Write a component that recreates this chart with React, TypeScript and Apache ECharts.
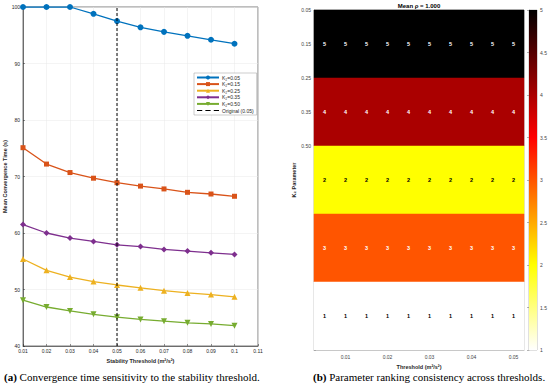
import React, { useEffect, useRef } from 'react';
import * as echarts from 'echarts';

// ---------- Panel (a) data ----------
const THRESHOLDS_A = [0.01, 0.02, 0.03, 0.04, 0.05, 0.06, 0.07, 0.08, 0.09, 0.1];
const SERIES_NAMES = ['K\u2082=0.05', 'K\u2082=0.15', 'K\u2082=0.25', 'K\u2082=0.35', 'K\u2082=0.50'];
const K2_005 = [100, 100, 100, 98.8, 97.5, 96.4, 95.6, 94.9, 94.2, 93.5];
const K2_015 = [75.1, 72.2, 70.7, 69.7, 68.9, 68.3, 67.8, 67.2, 66.9, 66.5];
const K2_025 = [55.4, 53.4, 52.2, 51.4, 50.8, 50.3, 49.8, 49.4, 49.1, 48.7];
const K2_035 = [61.5, 60.0, 59.1, 58.5, 57.9, 57.6, 57.1, 56.8, 56.5, 56.2];
const K2_050 = [48.1, 46.9, 46.2, 45.6, 45.1, 44.7, 44.4, 44.1, 43.9, 43.6];
const ORIGINAL_THRESHOLD = 0.05;
const ORIGINAL_NAME = 'Original (0.05)';
const Y_MIN_A = 40;
const Y_MAX_A = 100;

// ---------- Panel (b) data ----------
const THRESHOLDS_B = [0.005, 0.01, 0.015, 0.02, 0.025, 0.03, 0.035, 0.04, 0.045, 0.05];
const X_TICKS_B = [0.01, 0.02, 0.03, 0.04, 0.05];
const K2_TICK_LABELS = ['0.05', '0.15', '0.25', '0.35', '0.50'];
const RANK_ROWS = [
  [5, 5, 5, 5, 5, 5, 5, 5, 5, 5],
  [4, 4, 4, 4, 4, 4, 4, 4, 4, 4],
  [2, 2, 2, 2, 2, 2, 2, 2, 2, 2],
  [3, 3, 3, 3, 3, 3, 3, 3, 3, 3],
  [1, 1, 1, 1, 1, 1, 1, 1, 1, 1],
];
const MEAN_RHO = 1.0;
const CBAR_MIN = 1;
const CBAR_MAX = 5;

const COLORS = ['#0072BD', '#D95319', '#EDB120', '#7E2F8E', '#77AC30'];
const SYMBOLS = ['circle', 'rect', 'triangle', 'diamond', 'path://M0,0 L10,0 L5,9 Z'];
const SYMBOL_SIZES = [6, 5, 6, 6, 6];
const FONT = 'Liberation Sans, Arial, sans-serif';
const SERIF = 'Liberation Serif, serif';
const AX = '#262626';

// flipped "hot" colormap: p=0 -> black (max rank), p=1 -> white (min rank)
function hotColor(p: number): string {
  const c = (v: number) => Math.round(Math.max(0, Math.min(1, v)) * 255);
  const r = c(p / 0.375);
  const g = c((p - 0.375) / 0.375);
  const b = c((p - 0.75) / 0.25);
  return `rgb(${r},${g},${b})`;
}
function rankColor(v: number): string {
  return hotColor(1 - (v - CBAR_MIN) / (CBAR_MAX - CBAR_MIN));
}

export default function App() {
  const ref = useRef<HTMLDivElement>(null);
  useEffect(() => {
    if (!ref.current) return;
    const chart = echarts.init(ref.current, undefined, { renderer: 'svg' });
    const seriesA = [K2_005, K2_015, K2_025, K2_035, K2_050];
    const halfStep = (THRESHOLDS_B[1] - THRESHOLDS_B[0]) / 2;
    const heatData: number[][] = [];
    RANK_ROWS.forEach((row, ri) => {
      row.forEach((v, ci) => heatData.push([THRESHOLDS_B[ci], ri + 1, v]));
    });
    const labelStyle = { fontSize: 5, color: AX, fontFamily: FONT };
    const halfTicks: number[] = [];
    for (let v = 0.5; v <= 5.5; v += 0.5) halfTicks.push(v);

    const option: any = {
      animation: false,
      textStyle: { fontFamily: FONT },
      grid: [
        { left: 23, top: 7, width: 235, height: 339, show: true, borderColor: AX, borderWidth: 0.6, backgroundColor: 'transparent' },
        { left: 314, top: 10, width: 210, height: 340, show: true, borderColor: '#999', borderWidth: 0.6, backgroundColor: 'transparent' },
        { left: 529, top: 10, width: 12, height: 340, show: true, borderColor: '#999', borderWidth: 0.6, backgroundColor: 'transparent' },
      ],
      xAxis: [
        {
          gridIndex: 0, type: 'value', min: 0.01, max: 0.11, interval: 0.01,
          axisLine: { lineStyle: { color: AX, width: 0.6 } },
          axisTick: { inside: true, length: 2, lineStyle: { color: AX, width: 0.5 } },
          axisLabel: { ...labelStyle, margin: 2 },
          splitLine: { show: true, lineStyle: { color: '#e8e8e8', width: 0.5 } },
          name: 'Stability Threshold (m\u00b2/s\u00b2)', nameLocation: 'middle', nameGap: 9,
          nameTextStyle: { fontSize: 5.5, fontWeight: 'bold', color: AX, fontFamily: FONT },
        },
        {
          gridIndex: 1, type: 'value', min: THRESHOLDS_B[0] - halfStep, max: THRESHOLDS_B[THRESHOLDS_B.length - 1] + halfStep,
          axisLine: { lineStyle: { color: '#999', width: 0.6 } },
          axisTick: { inside: true, length: 2, customValues: X_TICKS_B, lineStyle: { color: '#666', width: 0.5 } },
          axisLabel: { ...labelStyle, color: '#444', margin: 4, customValues: X_TICKS_B, formatter: (v: number) => v.toFixed(2) },
          splitLine: { show: false },
          name: 'Threshold (m\u00b2/s\u00b2)', nameLocation: 'middle', nameGap: 12,
          nameTextStyle: { fontSize: 5.5, fontWeight: 'bold', color: AX, fontFamily: FONT },
        },
        { gridIndex: 2, type: 'value', min: 0, max: 1, show: false },
      ],
      yAxis: [
        {
          gridIndex: 0, type: 'value', min: Y_MIN_A, max: Y_MAX_A, interval: 10,
          axisLine: { show: true, lineStyle: { color: AX, width: 0.6 } },
          axisTick: { show: true, inside: true, length: 2, lineStyle: { color: AX, width: 0.5 } },
          axisLabel: { ...labelStyle, margin: 3 },
          splitLine: { show: true, lineStyle: { color: '#e8e8e8', width: 0.5 } },
          name: 'Mean Convergence Time (s)', nameLocation: 'middle', nameGap: 14,
          nameTextStyle: { fontSize: 5.5, fontWeight: 'bold', color: AX, fontFamily: FONT },
        },
        {
          gridIndex: 1, type: 'value', min: 0.5, max: 5.5, inverse: true,
          axisLine: { show: true, lineStyle: { color: '#999', width: 0.6 } },
          axisTick: { show: true, inside: true, length: 2, customValues: halfTicks, lineStyle: { color: '#666', width: 0.5 } },
          axisLabel: {
            ...labelStyle, color: '#444', margin: 3,
            customValues: [0.5, 1, 1.5, 2, 2.5],
            formatter: (v: number) => K2_TICK_LABELS[Math.round((v - 0.5) * 2)] ?? '',
          },
          splitLine: { show: false },
          name: 'K\u2082 Parameter', nameLocation: 'middle', nameGap: 15,
          nameTextStyle: { fontSize: 5.5, fontWeight: 'bold', color: AX, fontFamily: FONT },
        },
        {
          gridIndex: 2, type: 'value', min: CBAR_MIN, max: CBAR_MAX, interval: 0.5, position: 'right',
          axisLine: { show: true, lineStyle: { color: '#999', width: 0.6 } },
          axisTick: { show: true, inside: true, length: 2, lineStyle: { color: '#666', width: 0.5 } },
          axisLabel: { ...labelStyle, color: '#444', margin: 3 },
          splitLine: { show: false },
        },
      ],
      legend: {
        orient: 'vertical', left: 194, top: 73,
        itemWidth: 22, itemHeight: 5, itemGap: 1.6,
        padding: [2, 3, 2, 2],
        borderColor: '#999', borderWidth: 0.5, backgroundColor: '#fff',
        textStyle: { fontSize: 5, color: AX, fontFamily: FONT, padding: [0, 0, 0, -2] },
        data: [
          ...SERIES_NAMES,
          {
            name: ORIGINAL_NAME,
            icon: 'path://M0,0 L5,0 L5,1 L0,1 Z M8,0 L13,0 L13,1 L8,1 Z M16,0 L21,0 L21,1 L16,1 Z',
            itemStyle: { color: '#000' },
          },
        ],
      },
      series: [
        ...seriesA.map((vals, i) => ({
          name: SERIES_NAMES[i], type: 'line', xAxisIndex: 0, yAxisIndex: 0,
          data: vals.map((v, j) => [THRESHOLDS_A[j], v]),
          symbol: SYMBOLS[i], symbolSize: SYMBOL_SIZES[i],
          lineStyle: { color: COLORS[i], width: 1.3 },
          itemStyle: { color: COLORS[i] },
          z: 3,
        })),
        {
          name: ORIGINAL_NAME, type: 'line', xAxisIndex: 0, yAxisIndex: 0,
          data: [[ORIGINAL_THRESHOLD, Y_MIN_A], [ORIGINAL_THRESHOLD, Y_MAX_A]],
          symbol: 'none', showSymbol: false,
          lineStyle: { color: '#000', width: 1, type: [3, 2] },
          itemStyle: { color: '#000' },
          z: 4,
        },
        {
          type: 'custom', xAxisIndex: 1, yAxisIndex: 1,
          data: heatData,
          renderItem: (params: any, api: any) => {
            const x = api.value(0), y = api.value(1), r = api.value(2);
            const a = api.coord([x - halfStep, y - 0.5]);
            const b = api.coord([x + halfStep, y + 0.5]);
            const left = Math.min(a[0], b[0]);
            const top = Math.min(a[1], b[1]);
            const w = Math.abs(b[0] - a[0]);
            const h = Math.abs(b[1] - a[1]);
            const col = rankColor(r);
            return {
              type: 'group',
              children: [
                { type: 'rect', shape: { x: left, y: top, width: w, height: h }, style: { fill: col, stroke: col, lineWidth: 0.5 } },
                {
                  type: 'text', x: left + w / 2, y: top + h / 2, z2: 10,
                  style: {
                    text: String(r), fill: r >= 3 ? '#ffffff' : '#000000',
                    fontSize: 5.5, fontWeight: 'bold', fontFamily: FONT,
                    align: 'center', verticalAlign: 'middle',
                  },
                },
              ],
            };
          },
        },
        {
          type: 'custom', xAxisIndex: 2, yAxisIndex: 2,
          data: [[0, CBAR_MIN, 1, CBAR_MAX]],
          renderItem: (params: any, api: any) => {
            const a = api.coord([api.value(0), api.value(3)]);
            const b = api.coord([api.value(2), api.value(1)]);
            return {
              type: 'rect',
              shape: { x: a[0], y: a[1], width: b[0] - a[0], height: b[1] - a[1] },
              style: {
                fill: new echarts.graphic.LinearGradient(0, 0, 0, 1, [
                  { offset: 0, color: hotColor(0) },
                  { offset: 0.375, color: hotColor(0.375) },
                  { offset: 0.75, color: hotColor(0.75) },
                  { offset: 1, color: hotColor(1) },
                ]),
              },
            };
          },
        },
      ],
      graphic: [
        {
          type: 'text', x: 419, y: 6,
          style: {
            text: `Mean \u03c1 = ${MEAN_RHO.toFixed(3)}`, fontSize: 6, fontWeight: 'bold', fill: '#000',
            fontFamily: FONT, align: 'center', verticalAlign: 'middle',
          },
        },
        {
          type: 'text', x: 4, y: 377,
          style: {
            text: '{b|(a)} Convergence time sensitivity to the stability threshold.',
            fontSize: 11, fontFamily: SERIF, fill: '#000', verticalAlign: 'middle',
            rich: { b: { fontWeight: 'bold', fontSize: 11, fontFamily: SERIF } },
          },
        },
        {
          type: 'text', x: 313, y: 377,
          style: {
            text: '{b|(b)} Parameter ranking consistency across thresholds.',
            fontSize: 11, fontFamily: SERIF, fill: '#000', verticalAlign: 'middle',
            rich: { b: { fontWeight: 'bold', fontSize: 11, fontFamily: SERIF } },
          },
        },
      ],
    };
    chart.setOption(option);
    return () => chart.dispose();
  }, []);
  return <div ref={ref} style={{ position: 'absolute', left: 0, top: 0, width: 550, height: 390, background: '#fff' }} />;
}
